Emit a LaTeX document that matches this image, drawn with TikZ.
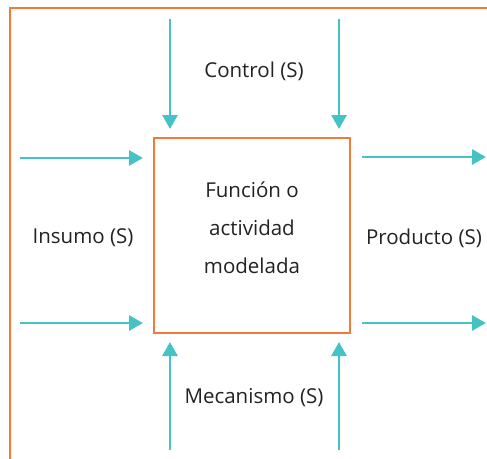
\documentclass[tikz,border=0pt]{standalone}
\usepackage{fontspec}
\setmainfont{Open Sans}
\usetikzlibrary{arrows.meta,calc}
\definecolor{frameorange}{HTML}{F07A3A}
\definecolor{flowteal}{HTML}{45C2C6}
\definecolor{labelgray}{HTML}{222222}
\begin{document}
\begin{tikzpicture}[x=1pt,y=-1pt,
  flow/.style={draw=flowteal,line width=2.8pt,-{Triangle[width=15pt,length=14pt]}},
  funcbox/.style={draw=frameorange,line width=2.3pt,minimum width=196pt,minimum height=195pt},
  boxtext/.style={align=center,font=\fontsize{20.5}{38}\selectfont,text=labelgray},
  lbl/.style={font=\fontsize{20.5}{24}\selectfont,text=labelgray}]
  \useasboundingbox (0,0) rectangle (487,458);
  % outer frame (only top and left edges)
  \draw[frameorange,line width=2.6pt] (10,460) -- (10,8) -- (490,8);
  % activity box and its caption
  \node[funcbox] (fn) at (252,235.5) {};
  \node[boxtext] (fntext) at (252,228) {Función o\\actividad\\modelada};
  % labels
  \node[lbl] (ctl) at (254,71) {Control (S)};
  \node[lbl] (ins) at (83,238) {Insumo (S)};
  \node[lbl] (prd) at (424,238) {Producto (S)};
  \node[lbl] (mec) at (254,398) {Mecanismo (S)};
  % arrow end points
  \coordinate (c1s) at (170,19);  \coordinate (c1e) at (170,129);
  \coordinate (c2s) at (339,19);  \coordinate (c2e) at (339,129);
  \coordinate (i1s) at (20,158);  \coordinate (i1e) at (143,158);
  \coordinate (i2s) at (20,323);  \coordinate (i2e) at (143,323);
  \coordinate (o1s) at (362,157); \coordinate (o1e) at (486,157);
  \coordinate (o2s) at (362,323); \coordinate (o2e) at (486,323);
  \coordinate (m1s) at (170,450); \coordinate (m1e) at (170,342);
  \coordinate (m2s) at (339,450); \coordinate (m2e) at (339,342);
  % flows
  \draw[flow] (c1s) -- (c1e);
  \draw[flow] (c2s) -- (c2e);
  \draw[flow] (i1s) -- (i1e);
  \draw[flow] (i2s) -- (i2e);
  \draw[flow] (o1s) -- (o1e);
  \draw[flow] (o2s) -- (o2e);
  \draw[flow] (m1s) -- (m1e);
  \draw[flow] (m2s) -- (m2e);
\end{tikzpicture}
\end{document}
